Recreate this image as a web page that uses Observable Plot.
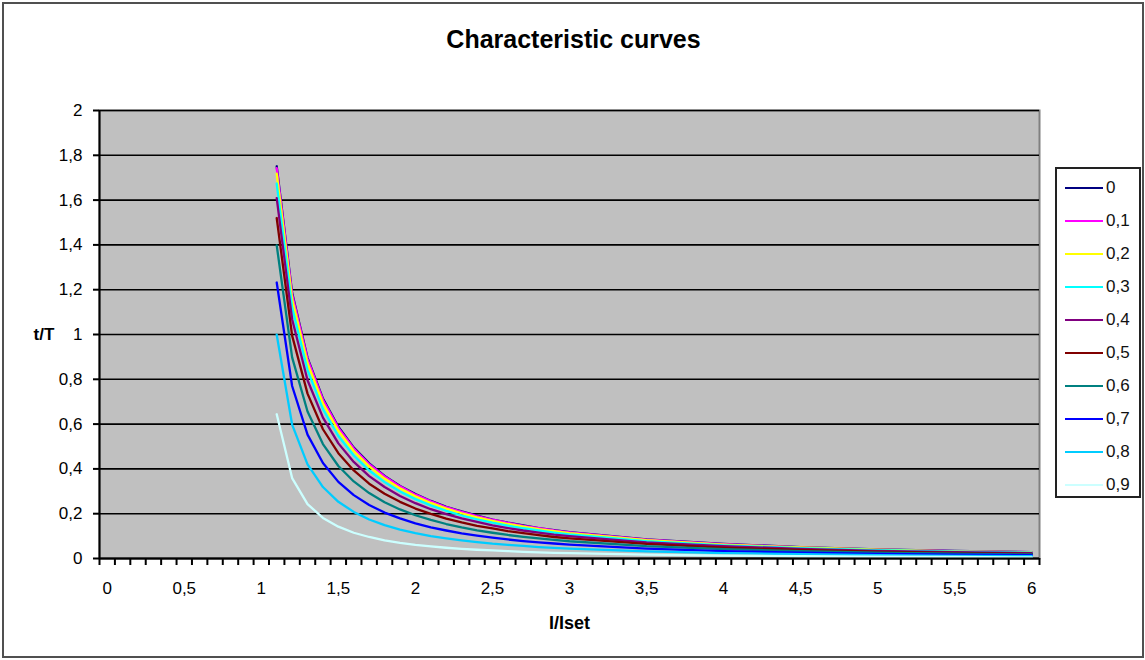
<!DOCTYPE html>
<html>
<head>
<meta charset="utf-8">
<script src="https://cdn.jsdelivr.net/npm/d3@7"></script>
<script src="https://cdn.jsdelivr.net/npm/@observablehq/plot@0.6"></script>
<style>
  body { margin: 0; background: #fff; font-family: "Liberation Sans", Arial, sans-serif; }
  #wrap { position: relative; width: 1145px; height: 660px; overflow: hidden; }
  #border { position: absolute; left: 2px; top: 2px; width: 1142px; height: 656px; border: 2px solid #505050; box-sizing: border-box; pointer-events: none; }
  #chart { position: absolute; left: 0; top: 0; }
  #legend { position: absolute; left: 1055px; top: 167px; width: 86px; height: 331px; border: 2px solid #222; box-sizing: border-box; background: #fff; padding-top: 2px; }
  .item { height: 33.1px; display: flex; align-items: center; font-size: 17px; color: #111; }
  .swatch { width: 38px; height: 0; border-top: 2px solid; margin-left: 8px; margin-right: 3px; }
</style>
</head>
<body>
<div id="wrap">
  <div id="chart"></div>
  <div id="legend"></div>
  <div id="border"></div>
</div>
<script>
// Current ratio I/Iset (x values of the sampled points)
const xValues = [1.1, 1.2, 1.3, 1.4, 1.5, 1.6, 1.7, 1.8, 1.9, 2.0,
                 2.1, 2.2, 2.3, 2.4, 2.5, 2.6, 2.7, 2.8, 2.9, 3.0,
                 3.5, 4.0, 4.5, 5.0, 5.5, 6.0];

// Series names (preload) and colours
const seriesNames = ["0", "0,1", "0,2", "0,3", "0,4", "0,5", "0,6", "0,7", "0,8", "0,9"];
const seriesColors = ["#000080", "#ff00ff", "#ffff00", "#00ffff", "#800080", "#800000", "#008080", "#0000ff", "#00ccff", "#ccffff"];

// t/T values per series
const s00 = [1.751, 1.186, 0.896, 0.714, 0.588, 0.495, 0.425, 0.369, 0.324, 0.288, 0.257, 0.231, 0.210, 0.191, 0.174, 0.160, 0.148, 0.136, 0.127, 0.118, 0.085, 0.065, 0.051, 0.041, 0.034, 0.028];
const s01 = [1.743, 1.179, 0.890, 0.709, 0.583, 0.491, 0.421, 0.366, 0.322, 0.285, 0.255, 0.229, 0.208, 0.189, 0.173, 0.159, 0.146, 0.135, 0.125, 0.117, 0.084, 0.064, 0.050, 0.040, 0.033, 0.028];
const s02 = [1.718, 1.158, 0.872, 0.693, 0.570, 0.480, 0.411, 0.357, 0.313, 0.278, 0.248, 0.223, 0.202, 0.184, 0.168, 0.154, 0.142, 0.131, 0.122, 0.113, 0.082, 0.062, 0.049, 0.039, 0.032, 0.027];
const s03 = [1.674, 1.121, 0.841, 0.667, 0.547, 0.460, 0.393, 0.341, 0.299, 0.265, 0.237, 0.213, 0.192, 0.175, 0.160, 0.147, 0.135, 0.125, 0.116, 0.108, 0.078, 0.059, 0.046, 0.037, 0.031, 0.026];
const s04 = [1.609, 1.068, 0.796, 0.629, 0.514, 0.431, 0.368, 0.319, 0.279, 0.247, 0.220, 0.198, 0.179, 0.163, 0.148, 0.136, 0.125, 0.116, 0.107, 0.100, 0.072, 0.055, 0.043, 0.034, 0.028, 0.024];
const s05 = [1.520, 0.995, 0.736, 0.577, 0.470, 0.393, 0.334, 0.289, 0.253, 0.223, 0.199, 0.178, 0.161, 0.146, 0.134, 0.122, 0.113, 0.104, 0.096, 0.090, 0.065, 0.049, 0.038, 0.031, 0.025, 0.021];
const s06 = [1.398, 0.898, 0.656, 0.511, 0.413, 0.344, 0.292, 0.251, 0.219, 0.193, 0.172, 0.154, 0.139, 0.126, 0.115, 0.105, 0.097, 0.090, 0.083, 0.077, 0.055, 0.042, 0.033, 0.026, 0.022, 0.018];
const s07 = [1.232, 0.770, 0.553, 0.426, 0.342, 0.283, 0.239, 0.205, 0.179, 0.157, 0.139, 0.125, 0.112, 0.102, 0.093, 0.085, 0.078, 0.072, 0.067, 0.062, 0.044, 0.033, 0.026, 0.021, 0.017, 0.015];
const s08 = [0.999, 0.598, 0.420, 0.319, 0.253, 0.208, 0.174, 0.149, 0.129, 0.113, 0.100, 0.090, 0.081, 0.073, 0.066, 0.061, 0.056, 0.051, 0.047, 0.044, 0.032, 0.024, 0.019, 0.015, 0.012, 0.010];
const s09 = [0.644, 0.359, 0.243, 0.181, 0.142, 0.115, 0.096, 0.081, 0.070, 0.061, 0.054, 0.048, 0.043, 0.039, 0.036, 0.033, 0.030, 0.027, 0.025, 0.024, 0.017, 0.013, 0.010, 0.008, 0.007, 0.005];

// Axis ticks
const yTicks = [0, 0.2, 0.4, 0.6, 0.8, 1, 1.2, 1.4, 1.6, 1.8, 2];
const xLabelTicks = [0, 0.5, 1, 1.5, 2, 2.5, 3, 3.5, 4, 4.5, 5, 5.5, 6];
const xCategories = [0, 0.1, 0.2, 0.3, 0.4, 0.5, 0.6, 0.7, 0.8, 0.9, 1, 1.1, 1.2, 1.3, 1.4, 1.5, 1.6, 1.7, 1.8, 1.9, 2,
  2.1, 2.2, 2.3, 2.4, 2.5, 2.6, 2.7, 2.8, 2.9, 3, 3.1, 3.2, 3.3, 3.4, 3.5, 3.6, 3.7, 3.8, 3.9, 4,
  4.1, 4.2, 4.3, 4.4, 4.5, 4.6, 4.7, 4.8, 4.9, 5, 5.1, 5.2, 5.3, 5.4, 5.5, 5.6, 5.7, 5.8, 5.9, 6];

const allSeries = [s00, s01, s02, s03, s04, s05, s06, s07, s08, s09];
const data = [];
allSeries.forEach((vals, k) => vals.forEach((v, i) => data.push({x: xValues[i], y: v, s: seriesNames[k]})));

// Category boundaries (tick marks sit between categories, Excel-style)
const xMin = xCategories[0] - 0.05, xMax = xCategories[xCategories.length - 1] + 0.05;
const xBounds = xCategories.map(c => c - 0.05).concat([xMax]);

const comma = d => String(d).replace(".", ",");

const chart = Plot.plot({
  width: 1145,
  height: 660,
  marginLeft: 99,
  marginRight: 106,
  marginTop: 110,
  marginBottom: 102,
  style: {fontFamily: "'Liberation Sans', Arial, sans-serif", fontSize: "17px", color: "#000", background: "transparent"},
  x: {domain: [xMin, xMax], axis: null},
  y: {domain: [0, 2], axis: null},
  color: {domain: seriesNames, range: seriesColors},
  marks: [
    Plot.frame({fill: "#c0c0c0", stroke: "#808080", strokeWidth: 2}),
    Plot.ruleY(yTicks, {stroke: "#000", strokeWidth: 1.6}),
    Plot.lineY(data, {x: "x", y: "y", z: "s", stroke: "s", strokeWidth: 2.3}),
    Plot.ruleX([xMin], {y1: 0, y2: 2, stroke: "#000", strokeWidth: 2}),
    Plot.ruleY([0], {stroke: "#000", strokeWidth: 2}),
    Plot.axisY({ticks: yTicks, tickSize: 6, tickPadding: 11, tickFormat: comma, label: null, fontSize: 17, strokeWidth: 2}),
    Plot.axisX({ticks: xBounds, tickSize: 7, tickFormat: () => "", label: null, strokeWidth: 2}),
    Plot.axisX({ticks: xLabelTicks, tickSize: 0, tickPadding: 23, tickFormat: comma, label: null, fontSize: 17}),
    Plot.text(["Characteristic curves"], {frameAnchor: "top", dy: -80, dx: 4, fontSize: 25, fontWeight: "bold"}),
    Plot.text(["t/T"], {frameAnchor: "left", dx: -66, fontSize: 17, fontWeight: "bold"}),
    Plot.text(["I/Iset"], {frameAnchor: "bottom", dy: 70, fontSize: 18, fontWeight: "bold"})
  ]
});
document.getElementById("chart").appendChild(chart);

// Legend
const legend = document.getElementById("legend");
seriesNames.forEach((name, k) => {
  const item = document.createElement("div");
  item.className = "item";
  const sw = document.createElement("div");
  sw.className = "swatch";
  sw.style.borderTopColor = seriesColors[k];
  const lab = document.createElement("span");
  lab.textContent = name;
  item.appendChild(sw);
  item.appendChild(lab);
  legend.appendChild(item);
});
</script>
</body>
</html>
